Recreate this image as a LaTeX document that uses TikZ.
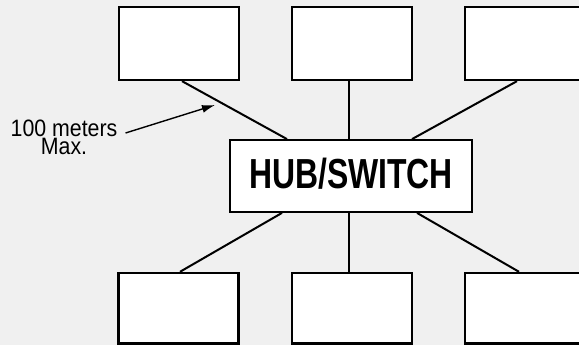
\documentclass[tikz,border=0pt]{standalone}
\usepackage{fontspec}
\setmainfont{Liberation Sans}
\newfontfamily\hubfont[FakeStretch=0.76]{Liberation Sans}
\newfontfamily\lblfont[FakeStretch=0.9]{Liberation Sans}
\usetikzlibrary{arrows.meta}
\definecolor{bgc}{RGB}{240,240,240}
\begin{document}
\begin{tikzpicture}[x=1pt,y=-1pt,
  station/.style={draw=black,fill=white,line width=2.3pt,minimum width=120pt,inner sep=0pt},
  toprow/.style={station,minimum height=73pt},
  botrow/.style={station,minimum height=70.5pt},
  hubbox/.style={draw=black,fill=white,line width=1.8pt,minimum width=242pt,minimum height=72pt,inner sep=0pt,
    text depth=6pt,font=\hubfont\bfseries\fontsize{42}{42}\selectfont},
  link/.style={line width=2pt,draw=black},
  note/.style={inner sep=0pt,align=center,font=\lblfont\fontsize{23.7}{18}\selectfont},
  pointer/.style={line width=1.4pt,draw=black,-{Latex[length=13pt,width=8pt]}}]
\fill[bgc] (0,0) rectangle (579,345);
\useasboundingbox (0,0) rectangle (579,345);
% stations
\node[toprow] (tl) at (179,43.5) {};
\node[toprow] (tm) at (352,43.5) {};
\node[toprow] (tr) at (525,43.5) {};
\node[botrow] (bl) at (178.5,308.2) {};
\node[botrow] (bm) at (352,308.2) {};
\node[botrow] (br) at (525,308.2) {};
% hub
\node[hubbox] (hub) at (351,176) {HUB/SWITCH};
% links
\draw[link] ([xshift=3pt]tl.south) -- ([xshift=-64pt]hub.north);
\draw[link] ([xshift=-3pt]tm.south) -- ([xshift=-2pt]hub.north);
\draw[link] ([xshift=-8pt]tr.south) -- ([xshift=61pt]hub.north);
\draw[link] ([xshift=-69pt]hub.south) -- ([xshift=1.5pt]bl.north);
\draw[link] ([xshift=-2pt]hub.south) -- ([xshift=-3pt]bm.north);
\draw[link] ([xshift=66pt]hub.south) -- ([xshift=-6pt]br.north);
% label
\node[note,anchor=north] (lbl) at (64,120) {100 meters\\Max.};
\coordinate (tip) at (215,105);
\draw[pointer] ([shift={(8pt,-13pt)}]lbl.north east) -- (tip);
\end{tikzpicture}
\end{document}
